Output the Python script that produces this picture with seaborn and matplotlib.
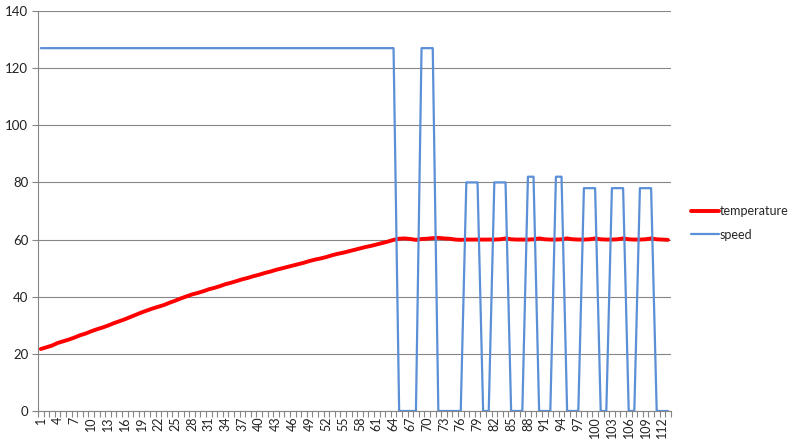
import numpy as np
import pandas as pd
import matplotlib
matplotlib.use("Agg")
import matplotlib.pyplot as plt
import seaborn as sns

# ---- data ----
categories = list(range(1, 114))
temperature = [
    21.7, 22.3, 22.9, 23.8, 24.4, 25.0, 25.7, 26.5, 27.1, 27.9,
    28.6, 29.2, 29.9, 30.7, 31.4, 32.1, 32.9, 33.7, 34.5, 35.2,
    35.9, 36.5, 37.1, 37.9, 38.6, 39.4, 40.1, 40.8, 41.3, 41.9,
    42.6, 43.1, 43.7, 44.4, 44.9, 45.5, 46.1, 46.6, 47.2, 47.7,
    48.3, 48.8, 49.4, 49.9, 50.4, 50.9, 51.4, 51.9, 52.5, 53.0,
    53.4, 53.9, 54.5, 55.0, 55.4, 55.9, 56.4, 56.9, 57.4, 57.8,
    58.3, 58.8, 59.3, 59.9, 60.3, 60.4, 60.2, 59.9, 60.2, 60.3,
    60.5, 60.6, 60.4, 60.3, 60.0, 59.9, 60.0, 60.0, 60.0, 60.0,
    60.0, 60.0, 60.1, 60.4, 60.1, 60.0, 60.0, 60.0, 60.1, 60.4,
    60.1, 60.0, 60.0, 60.1, 60.4, 60.1, 60.0, 60.0, 60.1, 60.4,
    60.1, 60.0, 60.0, 60.1, 60.4, 60.1, 60.0, 60.0, 60.1, 60.4,
    60.1, 60.0, 59.9,
]
speed = (
    [127] * 64 + [0] * 4 + [127] * 3 + [0] * 5 + [80] * 3 + [0] * 2 + [80] * 3
    + [0] * 3 + [82] * 2 + [0] * 3 + [82] * 2 + [0] * 3 + [78] * 3 + [0] * 2
    + [78] * 3 + [0] * 2 + [78] * 3 + [0] * 3
)
tick_positions = list(range(1, 113, 3))
tick_labels = [str(t) for t in tick_positions]
y_ticks = [0, 20, 40, 60, 80, 100, 120, 140]

df = pd.DataFrame({"cat": categories, "temperature": temperature, "speed": speed})

sns.set_style("white")
plt.rcParams["font.family"] = ["Lato", "DejaVu Sans"]

fig = plt.figure(figsize=(7.97, 4.46), dpi=100)
ax = fig.add_axes([38 / 797, 1 - 411 / 446, (670.7 - 38) / 797, 400 / 446])

sns.lineplot(data=df, x="cat", y="temperature", ax=ax, color="#FF0000",
             linewidth=2.8, label="temperature", zorder=3)
sns.lineplot(data=df, x="cat", y="speed", ax=ax, color="#5B8FD6",
             linewidth=1.6, label="speed", zorder=4)

ax.set_xlim(0.5, 113.5)
ax.set_ylim(0, 140)
ax.set_yticks(y_ticks)
ax.set_yticklabels([str(v) for v in y_ticks], fontsize=9.5, color="#222222")
ax.set_xticks(tick_positions)
ax.set_xticklabels(tick_labels, rotation=90, fontsize=9, color="#222222")
ax.set_xticks(np.arange(0.5, 114, 1), minor=True)
ax.tick_params(axis="x", which="major", length=0, pad=4)
ax.tick_params(axis="x", which="minor", length=4, width=0.8, color="#868686",
               direction="out", bottom=True)
ax.tick_params(axis="y", which="major", length=4, width=0.8, color="#868686",
               direction="out", left=True, pad=3)
ax.set_xlabel("")
ax.set_ylabel("")
ax.yaxis.grid(True, color="#868686", linewidth=0.8)
ax.xaxis.grid(False)
ax.set_axisbelow(True)
for side in ["top", "right"]:
    ax.spines[side].set_visible(False)
for side in ["left", "bottom"]:
    ax.spines[side].set_color("#868686")
    ax.spines[side].set_linewidth(0.8)

handles, labels = ax.get_legend_handles_labels()
ax.get_legend().remove()
fig.legend(handles, labels, loc="center left",
           bbox_to_anchor=(686 / 797, 1 - 223 / 446),
           frameon=False, fontsize=9, handlelength=2.2, handletextpad=0.1,
           labelspacing=0.9, borderaxespad=0)

fig.savefig("out.png", dpi=100, facecolor="white")
